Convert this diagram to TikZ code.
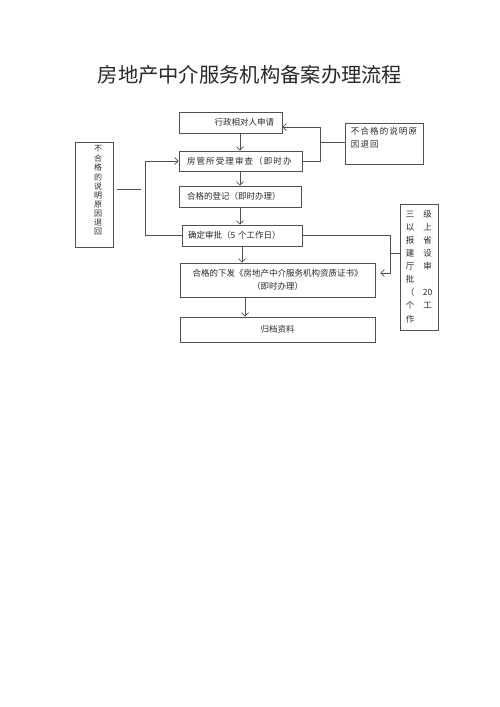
\documentclass[tikz,border=0pt]{standalone}
\usepackage{fontspec}
\newfontfamily\cjk{Noto Sans CJK SC}
\newfontfamily\cjkls[LetterSpace=13]{Noto Sans CJK SC}
\usetikzlibrary{arrows.meta}
\definecolor{linec}{RGB}{80,80,80}
\definecolor{txtc}{RGB}{40,40,40}
\begin{document}
\begin{tikzpicture}[x=1pt,y=-1pt,
  box/.style={draw=linec, line width=0.7pt, inner sep=0pt, text=txtc,
    font=\cjk\fontsize{8.5}{13}\selectfont},
  conn/.style={draw=linec, line width=0.7pt},
  arr/.style={conn, -{Straight Barb[length=3.5pt,width=7pt]}}]
\useasboundingbox (0,0) rectangle (500,707);

\node[text=txtc, font=\cjk\fontsize{20.3}{24}\selectfont] (title) at (250,75) {房地产中介服务机构备案办理流程};

\node[box, minimum width=103pt, minimum height=21pt, text width=87pt, align=right] (b1) at (230.5,122.5) {行政相对人申请};
\node[box, minimum width=123pt, minimum height=20pt, text width=107pt, align=left] (b2) at (240.5,161) {\cjkls 房管所受理审查（即时办};
\node[box, minimum width=122pt, minimum height=21pt, text width=106pt, align=left] (b3) at (240,196.5) {合格的登记（即时办理）};
\node[box, minimum width=120pt, minimum height=21pt, text width=108pt, align=left] (b4) at (242,235.5) {确定审批（5 个工作日）};
\node[box, minimum width=195pt, minimum height=34pt, align=center] (b5) at (277.5,280) {合格的下发《房地产中介服务机构资质证书》\\（即时办理）};
\node[box, minimum width=195pt, minimum height=25pt] (b6) at (277.5,329.5) {归档资料};

\node[box, minimum width=78pt, minimum height=41pt] (r1) at (384,143.5)
  {\raisebox{5pt}[\height][\depth]{\cjkls\begin{tabular}{@{}l@{}}不合格的说明原\\因退回\end{tabular}}};

\node[box, minimum width=38pt, minimum height=126pt] (r2) at (419,267)
  {\fontsize{8.5}{13.1}\selectfont\begin{tabular}{@{}c@{\hspace{8.5pt}}c@{}}
   三&级\\以&上\\报&省\\建&设\\厅&审\\批&\\（&20\\个&工\\作&
   \end{tabular}\hspace{5pt}};

\node[box, minimum width=38pt, minimum height=105pt] (l1) at (94,194.5)
  {\hspace{8pt}\raisebox{3pt}[\height][\depth]{\fontsize{8}{8.9}\selectfont\begin{tabular}{@{}c@{}}
   不\\合\\格\\的\\说\\明\\原\\因\\退\\回\end{tabular}}};

% helper coordinates
\coordinate (xa) at (240,0);
\coordinate (xb) at (245,0);
\coordinate (lv) at (145,0);
\coordinate (ly) at (0,189);
\coordinate (rv) at (320,0);
\coordinate (ry1) at (0,127);
\coordinate (ry0) at (0,142);
\coordinate (rv2) at (390,0);
\coordinate (ry2) at (0,273);
\coordinate (ry3) at (0,253);

% main flow
\draw[arr] (b1.south -| xa) -- (b2.north -| xa);
\draw[arr] (b2.south -| xa) -- (b3.north -| xa);
\draw[arr] (b3.south -| xa) -- (b4.north -| xa);
\draw[arr] (b4.south) -- (b5.north -| b4.south);
\draw[arr] (b5.south -| xb) -- (b6.north -| xb);

% left return loop
\draw[arr] (b4.west) -- (b4.west -| lv) -- (b2.west -| lv) -- (b2.west);
\draw[conn, shorten <=4pt, shorten >=4pt] (l1.east |- ly) -- (lv |- ly);

% right upper return loop
\draw[arr] (b2.east) -- (b2.east -| rv) -- (rv |- ry1) -- (b1.east |- ry1);
\draw[conn] (rv |- ry0) -- (r1.west |- ry0);

% right lower loop
\draw[arr, shorten >=5pt] (b4.east) -- (b4.east -| rv2) -- (rv2 |- ry2) -- (b5.east |- ry2);
\draw[conn] (rv2 |- ry3) -- (r2.west |- ry3);
\end{tikzpicture}
\end{document}
